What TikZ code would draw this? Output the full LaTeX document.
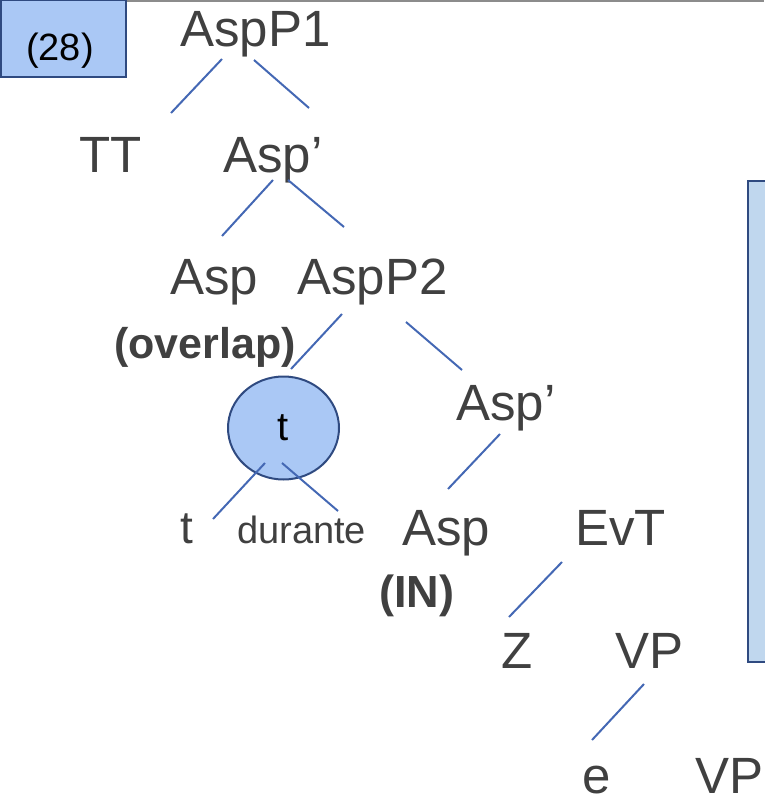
\documentclass[tikz,border=0pt]{standalone}
\usepackage{fontspec}
\setmainfont{Liberation Sans}
\usetikzlibrary{shapes.geometric}
\definecolor{txtgray}{HTML}{404040}
\definecolor{lineblue}{HTML}{4468B4}
\definecolor{darkblue}{HTML}{2F4A80}
\definecolor{boxfill}{HTML}{AAC8F5}
\definecolor{panelfill}{HTML}{C0D7EE}
\definecolor{rulegray}{HTML}{8C8C8C}
\begin{document}
\begin{tikzpicture}[x=1pt,y=-1pt,
  lbl/.style={anchor=base west, inner sep=0pt, text=txtgray, font=\fontsize{51}{60}\selectfont},
  bold/.style={anchor=base west, inner sep=0pt, text=txtgray, font=\fontsize{43}{50}\selectfont\bfseries},
  small/.style={anchor=base west, inner sep=0pt, text=txtgray, font=\fontsize{38}{44}\selectfont},
  edge/.style={draw=lineblue, line width=2pt},
  frame/.style={draw=darkblue, line width=2pt, inner sep=0pt}]
\useasboundingbox (0,0) rectangle (764,800);
% top rule
\coordinate (ruleL) at (0,1);
\coordinate (ruleR) at (764,1);
\draw[rulegray, line width=2pt] (ruleL) -- (ruleR);
% example number box
\node[frame, fill=boxfill, anchor=north west, minimum width=125pt, minimum height=77pt] (num) at (0,-1) {};
\node[anchor=base west, inner sep=0pt, font=\fontsize{38}{44}\selectfont] (numtxt) at (26,60) {(28)};
% right panel
\node[frame, fill=panelfill, anchor=north west, minimum width=40pt, minimum height=481pt] (panel) at (747,180) {};
% labels
\node[lbl] (AspPone) at (180,47) {AspP1};
\node[lbl] (TT) at (79,172) {TT};
\node[lbl] (Aspbarone) at (223,172) {Asp’};
\node[lbl] (Aspone) at (170,294) {Asp};
\node[lbl] (AspPtwo) at (297,294) {AspP2};
\node[bold] (overlap) at (114,358) {(overlap)};
\node[lbl] (Aspbartwo) at (456,420) {Asp’};
\node[ellipse, frame, fill=boxfill, minimum width=111pt, minimum height=103pt, font=\fontsize{40}{46}\selectfont] (tcirc) at (283.5,428) {t};
\node[anchor=base west, inner sep=0pt, text=txtgray, font=\fontsize{46}{52}\selectfont] (tsmall) at (180,543) {t};
\node[small] (durante) at (237,543) {durante};
\node[lbl] (Asptwo) at (402,545) {Asp};
\node[anchor=base west, inner sep=0pt, text=txtgray, font=\fontsize{45}{52}\selectfont\bfseries] (IN) at (379,607) {(IN)};
\node[lbl] (EvT) at (575,545) {EvT};
\node[lbl] (Z) at (501,668) {Z};
\node[lbl] (VPone) at (615,668) {VP};
\node[lbl] (e) at (582,793) {e};
\node[lbl] (VPtwo) at (695,793) {VP};
% connector end points
\coordinate (a1) at (222,59);  \coordinate (a2) at (171,113);
\coordinate (a3) at (254,60);  \coordinate (a4) at (309,108);
\coordinate (b1) at (273,180); \coordinate (b2) at (222,236);
\coordinate (b3) at (288,180); \coordinate (b4) at (344,227);
\coordinate (c1) at (342,314); \coordinate (c2) at (291,369);
\coordinate (c3) at (406,322); \coordinate (c4) at (462,370);
\coordinate (d1) at (500,434); \coordinate (d2) at (448,489);
\coordinate (e1) at (265,463); \coordinate (e2) at (213,519);
\coordinate (e3) at (282,463); \coordinate (e4) at (338,511);
\coordinate (f1) at (562,562); \coordinate (f2) at (509,617);
\coordinate (g1) at (644,684); \coordinate (g2) at (592,740);
\draw[edge] (a1) -- (a2);
\draw[edge] (a3) -- (a4);
\draw[edge] (b1) -- (b2);
\draw[edge] (b3) -- (b4);
\draw[edge] (c1) -- (c2);
\draw[edge] (c3) -- (c4);
\draw[edge] (d1) -- (d2);
\draw[edge] (e1) -- (e2);
\draw[edge] (e3) -- (e4);
\draw[edge] (f1) -- (f2);
\draw[edge] (g1) -- (g2);
\end{tikzpicture}
\end{document}
